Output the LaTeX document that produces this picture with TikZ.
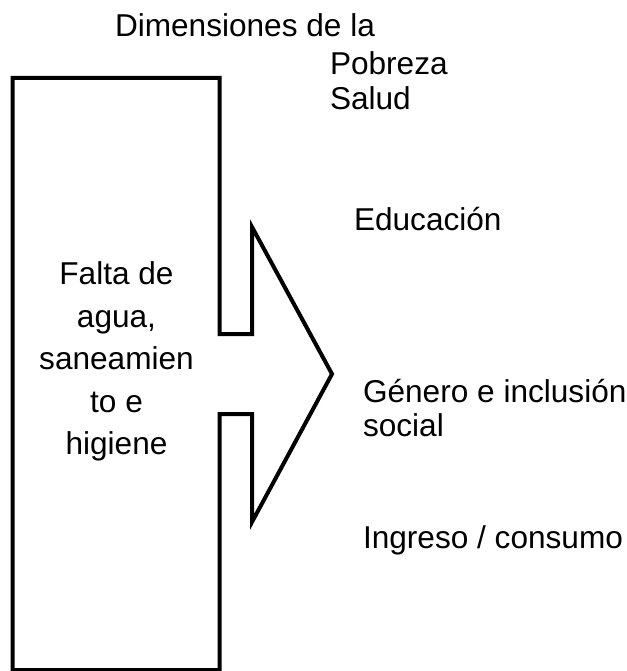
\documentclass[tikz,border=0pt]{standalone}
\usepackage{fontspec}
\setmainfont{Liberation Sans}

\tikzset{every picture/.style={line width=4pt}}
\tikzset{lbl/.style={anchor=base west,inner sep=0pt,font=\fontsize{31.6}{35}\selectfont}}
\tikzset{boxtext/.style={anchor=base,inner sep=0pt,font=\fontsize{31.6}{42.5}\selectfont}}

\begin{document}
\begin{tikzpicture}[x=1pt,y=1pt,yscale=-1,xscale=1]
\useasboundingbox (0,0) rectangle (626,671);

%Shape: Box with arrow
\draw   (12.5,78) -- (219.5,78) -- (219.5,334) -- (252,334) -- (252,227) -- (332,374) -- (252,522) -- (252,414) -- (219.5,414) -- (219.5,670) -- (12.5,670) -- cycle ;

% Text Node
\node (falta) at (116.5,284) [boxtext] {Falta de};
% Text Node
\node (agua) at (116.5,327) [boxtext] {agua,};
% Text Node
\node (sanea) at (116.5,369.5) [boxtext] {saneamien};
% Text Node
\node (toe) at (116.5,412) [boxtext] {to e};
% Text Node
\node (higiene) at (116.5,454) [boxtext] {higiene};

% Text Node
\node (dim) at (113,37) [lbl] {Dimensiones de la};
% Text Node
\node (pobreza) at (328,75) [lbl] {Pobreza};
% Text Node
\node (salud) at (328,110) [lbl] {Salud};
% Text Node
\node (educ) at (352,230) [lbl] {Educación};
% Text Node
\node (genero) at (361,402) [lbl] {Género e inclusión};
% Text Node
\node (social) at (361,436) [lbl] {social};
% Text Node
\node (ingreso) at (361,548) [lbl] {Ingreso / consumo};

\end{tikzpicture}
\end{document}
